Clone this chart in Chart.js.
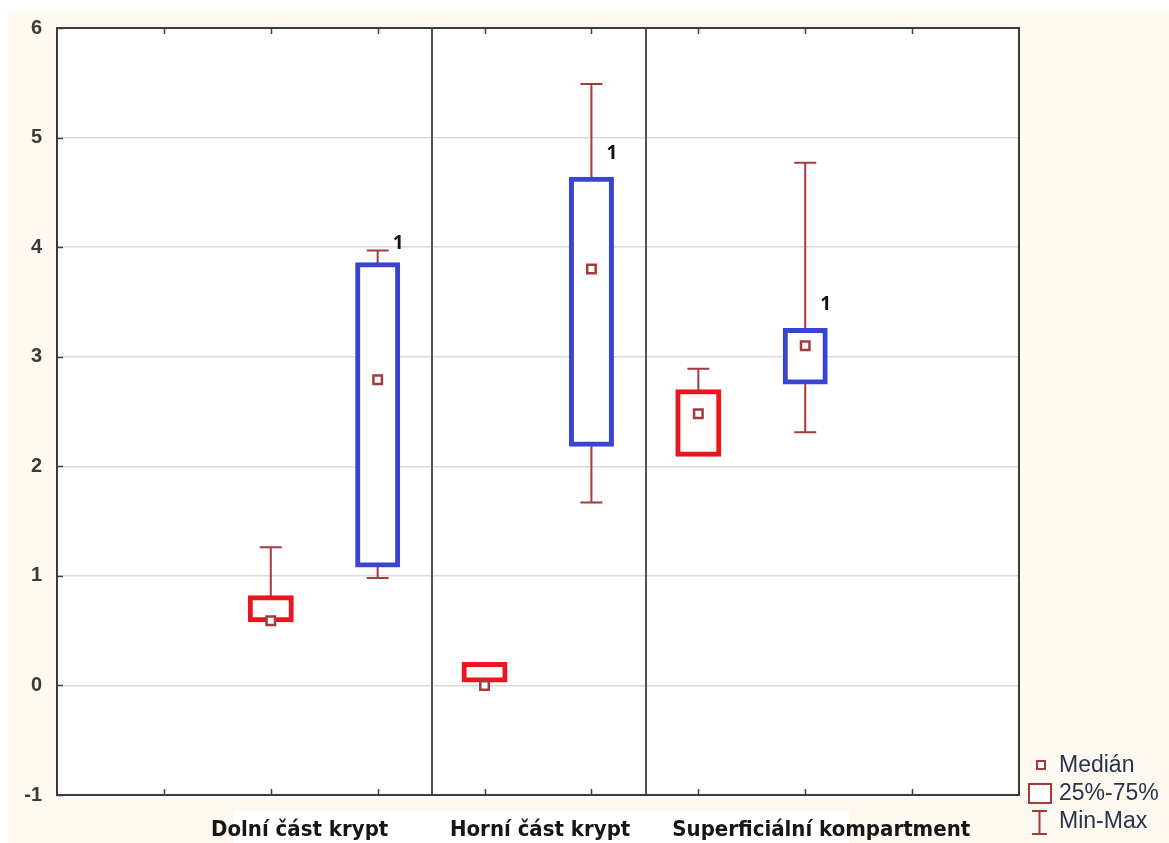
<!DOCTYPE html>
<html>
<head>
<meta charset="utf-8">
<script src="https://cdn.jsdelivr.net/npm/chart.js@4/dist/chart.umd.min.js"></script>
<style>
  html, body { margin: 0; padding: 0; background: #ffffff; }
  canvas { display: block; }
</style>
</head>
<body>
<canvas id="c" width="1169" height="843"></canvas>
<script>
// Groups along the x axis and where their names sit
const groupNames = ['Dolní část krypt', 'Horní část krypt', 'Superficiální kompartment'];
const groupLabelAt = [2.27, 4.52, 7.15];
const groupDividers = [3.5, 5.5];

// Red series (first box of each group)
const redPos    = [2, 4, 6];
const redMin    = [0.60, 0.05, 2.11];
const redQ1     = [0.60, 0.05, 2.11];
const redMedian = [0.59, 0.00, 2.48];
const redQ3     = [0.80, 0.19, 2.68];
const redMax    = [1.26, 0.19, 2.89];

// Blue series (second box of each group)
const bluePos    = [3, 5, 7];
const blueMin    = [0.98, 1.67, 2.31];
const blueQ1     = [1.10, 2.20, 2.77];
const blueMedian = [2.79, 3.80, 3.10];
const blueQ3     = [3.84, 4.62, 3.24];
const blueMax    = [3.97, 5.49, 4.77];

// Small annotations next to the blue boxes
const blueNote   = ['1', '1', '1'];
const blueNoteAt = [4.03, 4.85, 3.48];

// Axis ticks
const yTicks = [-1, 0, 1, 2, 3, 4, 5, 6];
const xMinorTicks = [1, 2, 3, 4, 5, 6, 7, 8];

// Legend entries
const legendItems = ['Medián', '25%-75%', 'Min-Max'];

const RED = '#e8161f';
const BLUE = '#3a44d0';
const DARKRED = '#a53a3c';
const CREAM = '#fdf9f0';
const BOX_LINE = 5;

const boxes = (pos, lo, hi) => pos.map((p, i) => ({ x: p, y: [lo[i], hi[i]] }));
const points = (pos, v) => pos.map((p, i) => ({ x: p, y: v[i] }));

const decor = {
  id: 'decor',
  beforeDraw(chart) {
    const ctx = chart.ctx;
    const { left, top, right, bottom } = chart.chartArea;
    ctx.save();
    ctx.fillStyle = '#ffffff';
    ctx.fillRect(0, 0, chart.width, chart.height);
    ctx.fillStyle = CREAM;
    ctx.fillRect(8, 11, chart.width - 8, chart.height - 11);
    ctx.fillStyle = '#ffffff';
    ctx.fillRect(233, 811, 616, chart.height - 811);
    ctx.fillRect(left, top, right - left, bottom - top);
    ctx.restore();
  },
  beforeDatasetsDraw(chart) {
    // whiskers from min to max with end caps
    const ctx = chart.ctx;
    const xs = chart.scales.x, ys = chart.scales.y;
    const draw = (pos, mn, mx) => {
      pos.forEach((p, i) => {
        const x = xs.getPixelForValue(p);
        const y0 = ys.getPixelForValue(mn[i]);
        const y1 = ys.getPixelForValue(mx[i]);
        ctx.beginPath();
        ctx.moveTo(x, y0); ctx.lineTo(x, y1);
        ctx.moveTo(x - 11, y0); ctx.lineTo(x + 11, y0);
        ctx.moveTo(x - 11, y1); ctx.lineTo(x + 11, y1);
        ctx.stroke();
      });
    };
    ctx.save();
    ctx.strokeStyle = DARKRED;
    ctx.lineWidth = 2;
    draw(redPos, redMin, redMax);
    draw(bluePos, blueMin, blueMax);
    ctx.restore();
  },
  afterDatasetsDraw(chart) {
    const ctx = chart.ctx;
    const xs = chart.scales.x, ys = chart.scales.y;
    const { left, top, right, bottom } = chart.chartArea;
    ctx.save();
    // group dividers
    ctx.strokeStyle = '#505050';
    ctx.lineWidth = 2;
    groupDividers.forEach(v => {
      const x = Math.round(xs.getPixelForValue(v)) + 1;
      ctx.beginPath(); ctx.moveTo(x, top); ctx.lineTo(x, bottom); ctx.stroke();
    });
    // inward tick marks
    ctx.strokeStyle = '#404040';
    ctx.lineWidth = 1.5;
    xMinorTicks.forEach(v => {
      const x = Math.round(xs.getPixelForValue(v)) + 0.5;
      ctx.beginPath();
      ctx.moveTo(x, top); ctx.lineTo(x, top + 6);
      ctx.moveTo(x, bottom); ctx.lineTo(x, bottom - 6);
      ctx.stroke();
    });
    yTicks.forEach(v => {
      const y = Math.round(ys.getPixelForValue(v)) + 0.5;
      ctx.beginPath(); ctx.moveTo(left, y); ctx.lineTo(left + 6, y); ctx.stroke();
    });
    // frame
    ctx.strokeStyle = '#3a3a3a';
    ctx.lineWidth = 2;
    ctx.strokeRect(left, top, right - left, bottom - top);
    // notes beside the blue boxes
    ctx.fillStyle = '#111111';
    ctx.font = 'bold 19px "Open Sans", "Liberation Sans", sans-serif';
    ctx.textAlign = 'left';
    ctx.textBaseline = 'middle';
    bluePos.forEach((p, i) => {
      ctx.fillText(blueNote[i], xs.getPixelForValue(p) + 15, ys.getPixelForValue(blueNoteAt[i]));
    });
    ctx.restore();
  },
  afterDraw(chart) {
    // legend
    const ctx = chart.ctx;
    ctx.save();
    ctx.strokeStyle = DARKRED;
    ctx.lineWidth = 2;
    ctx.fillStyle = '#ffffff';
    ctx.fillRect(1037, 761, 8, 8);
    ctx.strokeRect(1037, 761, 8, 8);
    ctx.fillRect(1029, 784, 22, 19);
    ctx.strokeRect(1029, 784, 22, 19);
    ctx.beginPath();
    ctx.moveTo(1039.5, 811); ctx.lineTo(1039.5, 834);
    ctx.moveTo(1032, 811); ctx.lineTo(1047, 811);
    ctx.moveTo(1032, 834); ctx.lineTo(1047, 834);
    ctx.stroke();
    ctx.fillStyle = '#2a334c';
    ctx.font = '23px "Liberation Sans", Arial, sans-serif';
    ctx.textAlign = 'left';
    ctx.textBaseline = 'middle';
    const ys = [766, 794, 822];
    legendItems.forEach((t, i) => ctx.fillText(t, 1059, ys[i]));
    ctx.restore();
  }
};

new Chart(document.getElementById('c'), {
  type: 'bar',
  data: {
    datasets: [
      {
        type: 'bar', order: 2, grouped: false,
        data: boxes(redPos, redQ1, redQ3),
        backgroundColor: '#ffffff', borderColor: RED,
        borderWidth: BOX_LINE, borderSkipped: false,
        inflateAmount: BOX_LINE / 2, barThickness: 41
      },
      {
        type: 'bar', order: 2, grouped: false,
        data: boxes(bluePos, blueQ1, blueQ3),
        backgroundColor: '#ffffff', borderColor: BLUE,
        borderWidth: BOX_LINE, borderSkipped: false,
        inflateAmount: BOX_LINE / 2, barThickness: 40
      },
      {
        type: 'scatter', order: 1,
        data: points(redPos, redMedian).concat(points(bluePos, blueMedian)),
        pointStyle: 'rect', pointRadius: 6,
        pointBackgroundColor: '#ffffff', pointBorderColor: DARKRED, pointBorderWidth: 2.5
      }
    ]
  },
  options: {
    responsive: false,
    animation: false,
    layout: { padding: { left: 8, top: 28, right: 150, bottom: 0 } },
    plugins: { legend: { display: false }, tooltip: { enabled: false } },
    scales: {
      x: {
        type: 'linear', min: 0, max: 9, offset: false,
        grid: { display: false, drawTicks: false },
        border: { display: false },
        afterBuildTicks(scale) { scale.ticks = groupLabelAt.map(v => ({ value: v })); },
        afterFit(scale) { scale.height = 48; },
        ticks: {
          autoSkip: false, maxRotation: 0, padding: 22,
          color: '#161616',
          font: { family: '"Liberation Sans Narrow", "DejaVu Sans Condensed", sans-serif', size: 22, weight: 'bold' },
          callback: (v, i) => groupNames[i]
        }
      },
      y: {
        type: 'linear', min: -1, max: 6,
        grid: { color: '#d9d9d9', lineWidth: 1.5, drawTicks: false },
        border: { display: false },
        afterBuildTicks(scale) { scale.ticks = yTicks.map(v => ({ value: v })); },
        afterFit(scale) { scale.width = 49; },
        ticks: {
          padding: 15,
          color: '#3a3a3a',
          font: { family: '"Liberation Sans", Arial, sans-serif', size: 20, weight: 'bold' },
          callback: v => String(v)
        }
      }
    }
  },
  plugins: [decor]
});
</script>
</body>
</html>
